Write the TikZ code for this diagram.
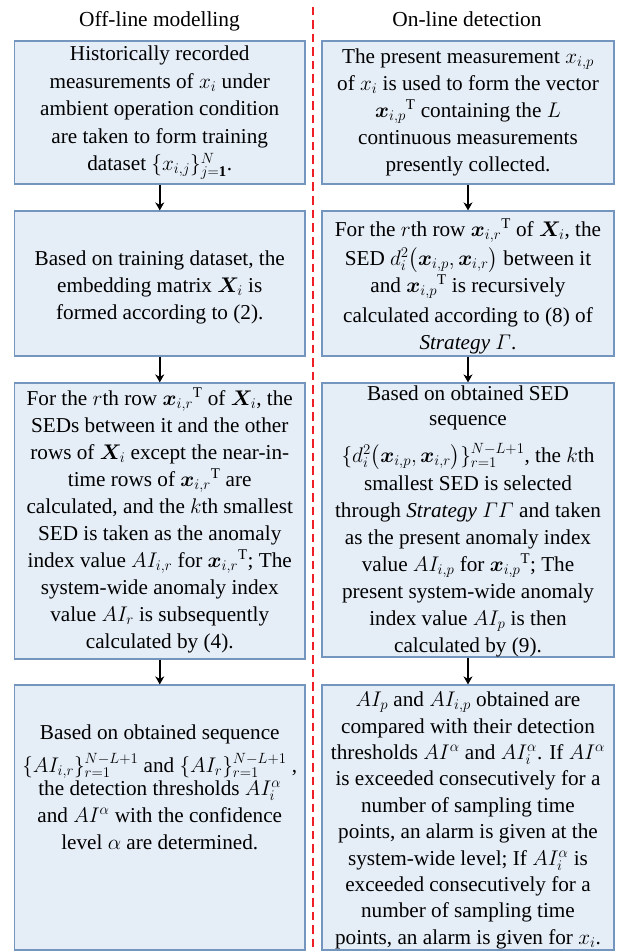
\documentclass[tikz,border=0pt]{standalone}
\usepackage{fix-cm}
\usepackage{amsmath}
\usepackage{bm}
\usepackage{fontspec}
\setmainfont{Liberation Serif}
\usetikzlibrary{arrows.meta}

\definecolor{boxfill}{RGB}{229,237,247}
\definecolor{boxedge}{RGB}{116,150,190}
\definecolor{divred}{RGB}{238,32,38}

% transposed bold vectors
\newcommand{\vecT}[1]{\bm{x}_{#1}{}^{\mathrm{T}}}
\newcommand{\vx}[1]{\bm{x}_{#1}}
% fixed line pitch inside the boxes
\newcommand{\stagefont}{\fontsize{21.2}{27}\selectfont\lineskiplimit=-30pt}
\newcommand{\densefont}{\fontsize{21.2}{26.4}\selectfont\lineskiplimit=-30pt}

\begin{document}
\begin{tikzpicture}[x=1pt,y=-1pt,
  stage/.style={draw=boxedge, fill=boxfill, line width=1.2pt, inner sep=0pt},
  txt/.style={align=center, inner sep=0pt, font=\stagefont},
  dense/.style={txt, font=\densefont},
  head/.style={anchor=base, inner sep=0pt, font=\fontsize{21.4}{27}\selectfont},
  flow/.style={line width=1.5pt, -{Stealth[length=8pt,width=9pt,inset=2.5pt]}},
  divider/.style={draw=divred, line width=2.2pt, dash pattern=on 8.5pt off 5pt}]
\useasboundingbox (0,0) rectangle (619,952);

% column headings
\node[head] (hleft) at (159.5,27) {Off-line modelling};
\node[head] (hright) at (467,27) {On-line detection};

% dividing line between the two columns
\coordinate (divtop) at (313,7);
\coordinate (divbot) at (313,952);
\draw[divider] (divtop) -- (divbot);

% off-line column
\node[stage, minimum width=290.5pt, minimum height=143pt] (l1) at (159.75,112.5) {};
\node[stage, minimum width=290.5pt, minimum height=145pt] (l2) at (159.75,283.5) {};
\node[stage, minimum width=290.5pt, minimum height=276pt] (l3) at (159.75,521) {};
\node[stage, minimum width=290.5pt, minimum height=265pt] (l4) at (159.75,817.5) {};

% on-line column
\node[stage, minimum width=292pt, minimum height=143pt] (r1) at (468,112.5) {};
\node[stage, minimum width=292pt, minimum height=145pt] (r2) at (468,283.5) {};
\node[stage, minimum width=292pt, minimum height=274pt] (r3) at (468,520) {};
\node[stage, minimum width=292pt, minimum height=265pt] (r4) at (468,817.5) {};

% texts
\node[txt] (l1t) at (159.75,112.5) {Historically recorded\\[0.5pt]
measurements of $x_i$ under\\[0.5pt]
ambient operation condition\\[0.5pt]
are taken to form training\\[0.5pt]
dataset $\{x_{i,j}\}_{j\mathbf{=1}}^{N}$.};

\node[txt] (l2t) at (159.75,287) {Based on training dataset, the\\
embedding matrix $\bm{X}_i$ is\\
formed according to (2).};

\node[txt] (l3t) at (159.75,520.5) {For the $r$th row $\vecT{i,r}$ of $\bm{X}_i$, the\\
SEDs between it and the other\\
rows of $\bm{X}_i$ except the near-in-\\
time rows of $\vecT{i,r}$ are\\
calculated, and the $k$th smallest\\
SED is taken as the anomaly\\
index value $AI_{i,r}$ for $\vecT{i,r}$; The\\
system-wide anomaly index\\
value $AI_r$ is subsequently\\
calculated by (4).};

\node[txt] (l4t) at (159.75,787) {Based on obtained sequence\\[6pt]
$\{AI_{i,r}\}_{r=1}^{N-L+1}$ and $\{AI_r\}_{r=1}^{N-L+1}$ ,\\[-4pt]
the detection thresholds $AI_i^{\alpha}$\\
and $AI^{\alpha}$ with the confidence\\
level $\alpha$ are determined.};

\node[txt] (r1t) at (468,112) {The present measurement $x_{i,p}$\\
of $x_i$ is used to form the vector\\
$\vecT{i,p}$ containing the $L$\\
continuous measurements\\
presently collected.};

\node[txt] (r2t) at (468,286.5) {For the $r$th row $\vecT{i,r}$ of $\bm{X}_i$, the\\[2pt]
SED $d_i^2\bigl(\vx{i,p},\vx{i,r}\bigr)$ between it\\
and $\vecT{i,p}$ is recursively\\[3pt]
calculated according to (8) of\\
\textit{Strategy} $\varGamma$.};

\node[txt] (r3t) at (468,521) {Based on obtained SED\\[-2pt]
sequence\\[10pt]
$\{d_i^2\bigl(\vx{i,p},\vx{i,r}\bigr)\}_{r=1}^{N-L+1}$, the $k$th\\[1pt]
smallest SED is selected\\
through \textit{Strategy} $\varGamma\varGamma$ and taken\\
as the present anomaly index\\
value $AI_{i,p}$ for $\vecT{i,p}$; The\\
present system-wide anomaly\\
index value $AI_p$ is then\\
calculated by (9).};

\node[dense] (r4t) at (468,820.5) {$AI_p$ and $AI_{i,p}$ obtained are\\
compared with their detection\\
thresholds $AI^{\alpha}$ and $AI_i^{\alpha}$. If $AI^{\alpha}$\\
is exceeded consecutively for a\\
number of sampling time\\
points, an alarm is given at the\\
system-wide level; If $AI_i^{\alpha}$ is\\
exceeded consecutively for a\\
number of sampling time\\
points, an alarm is given for $x_i$.};

% connectors
\draw[flow] (l1.south) -- (l2.north);
\draw[flow] (l2.south) -- (l3.north);
\draw[flow] (l3.south) -- (l4.north);
\draw[flow] (r1.south) -- (r2.north);
\draw[flow] (r2.south) -- (r3.north);
\draw[flow] (r3.south) -- (r4.north);
\end{tikzpicture}
\end{document}
